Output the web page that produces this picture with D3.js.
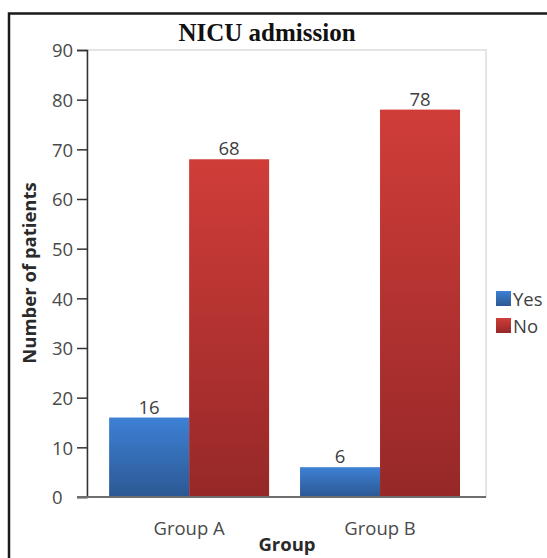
<!DOCTYPE html>
<html>
<head>
<meta charset="utf-8">
<script src="https://cdn.jsdelivr.net/npm/d3@7"></script>
<style>
  html, body { margin: 0; padding: 0; background: #fff; }
  svg { display: block; }
</style>
</head>
<body>
<svg id="chart" width="547" height="558"></svg>
<script>
// NICU admission counts by study group
const groups = ["Group A", "Group B"];
const seriesNames = ["Yes", "No"];
const yesValues = [16, 6];
const noValues = [68, 78];
const yTicks = [0, 10, 20, 30, 40, 50, 60, 70, 80, 90];

const svg = d3.select("#chart");
const W = 547, H = 558;
const plot = { left: 87, right: 486, top: 50, bottom: 497 };
const sansFont = "'Open Sans', 'Noto Sans', sans-serif";
const labelSize = 18.5;

// Outer frame (top and left edges visible)
svg.append("path")
  .attr("d", `M9,${H} L9,13.5 L${W},13.5`)
  .attr("fill", "none")
  .attr("stroke", "#1a1a1a")
  .attr("stroke-width", 2.5);

// Gradients for the bars
const defs = svg.append("defs");
const gradStops = {
  Yes: ["#3d80d4", "#2c5894"],
  No: ["#d03d39", "#962828"]
};
seriesNames.forEach(s => {
  const g = defs.append("linearGradient")
    .attr("id", "grad-" + s)
    .attr("x1", 0).attr("y1", 0).attr("x2", 0).attr("y2", 1);
  g.append("stop").attr("offset", "0%").attr("stop-color", gradStops[s][0]);
  g.append("stop").attr("offset", "100%").attr("stop-color", gradStops[s][1]);
});

// Scales
const x0 = d3.scaleBand()
  .domain(groups)
  .range([plot.left, plot.right])
  .paddingInner(0.162)
  .paddingOuter(0.126)
  .align(0.46);
const x1 = d3.scaleBand()
  .domain(seriesNames)
  .range([0, x0.bandwidth()])
  .padding(0);
const y = d3.scaleLinear()
  .domain([0, 90])
  .range([plot.bottom, plot.top]);

// Plot frame
svg.append("rect")
  .attr("x", plot.left).attr("y", plot.top)
  .attr("width", plot.right - plot.left)
  .attr("height", plot.bottom - plot.top)
  .attr("fill", "none")
  .attr("stroke", "#dcdcdc")
  .attr("stroke-width", 1.5);

// Bars
const rows = groups.map((g, i) => ({ group: g, values: [
  { key: "Yes", value: yesValues[i] },
  { key: "No", value: noValues[i] }
]}));

const gSel = svg.append("g").selectAll("g")
  .data(rows)
  .join("g")
  .attr("transform", d => `translate(${x0(d.group)},0)`);

gSel.selectAll("rect")
  .data(d => d.values)
  .join("rect")
  .attr("x", d => x1(d.key))
  .attr("y", d => y(d.value))
  .attr("width", x1.bandwidth())
  .attr("height", d => y(0) - y(d.value))
  .attr("fill", d => `url(#grad-${d.key})`);

gSel.selectAll("text")
  .data(d => d.values)
  .join("text")
  .attr("x", d => x1(d.key) + x1.bandwidth() / 2)
  .attr("y", d => y(d.value) - 4)
  .attr("text-anchor", "middle")
  .attr("font-family", sansFont)
  .attr("font-size", labelSize)
  .attr("fill", "#3f3f3f")
  .text(d => d.value);

// Y axis
const yAxis = svg.append("g")
  .attr("transform", `translate(${plot.left},0)`)
  .call(d3.axisLeft(y).tickValues(yTicks).tickSize(10).tickPadding(4));
yAxis.select(".domain").attr("stroke", "#333").attr("stroke-width", 1.5);
yAxis.selectAll(".tick line").attr("stroke", "#333").attr("stroke-width", 1.5);
yAxis.selectAll(".tick text")
  .attr("font-family", sansFont)
  .attr("font-size", labelSize)
  .attr("fill", "#4a4a4a")
  .attr("text-anchor", "start")
  .attr("x", 52 - plot.left)
  .attr("dy", "0.36em");

// X axis baseline and labels
const xAxis = svg.append("g")
  .attr("transform", `translate(0,${plot.bottom})`)
  .call(d3.axisBottom(x0).tickSize(0).tickPadding(25));
xAxis.select(".domain").remove();
xAxis.selectAll(".tick text")
  .attr("font-family", sansFont)
  .attr("font-size", labelSize)
  .attr("fill", "#4a4a4a");
svg.append("line")
  .attr("x1", plot.left - 10).attr("x2", plot.right)
  .attr("y1", plot.bottom).attr("y2", plot.bottom)
  .attr("stroke", "#6e6e6e")
  .attr("stroke-width", 2);

// Title
svg.append("text")
  .attr("x", 267).attr("y", 41)
  .attr("text-anchor", "middle")
  .attr("font-family", "'Liberation Serif', 'Times New Roman', serif")
  .attr("font-weight", "bold")
  .attr("font-size", 25)
  .attr("fill", "#111")
  .text("NICU admission");

// Axis titles
svg.append("text")
  .attr("x", 287).attr("y", 551)
  .attr("text-anchor", "middle")
  .attr("font-family", sansFont)
  .attr("font-weight", "bold")
  .attr("font-size", labelSize)
  .attr("fill", "#2a2a2a")
  .text("Group");

svg.append("text")
  .attr("transform", "translate(36,273) rotate(-90)")
  .attr("text-anchor", "middle")
  .attr("font-family", sansFont)
  .attr("font-weight", "bold")
  .attr("font-size", labelSize)
  .attr("fill", "#2a2a2a")
  .text("Number of patients");

// Legend
const legend = svg.append("g").attr("transform", "translate(496,291)");
const li = legend.selectAll("g")
  .data(seriesNames)
  .join("g")
  .attr("transform", (d, i) => `translate(0,${i * 27})`);
li.append("rect")
  .attr("width", 15).attr("height", 15)
  .attr("fill", d => `url(#grad-${d})`);
li.append("text")
  .attr("x", 17).attr("y", 14.5)
  .attr("font-family", sansFont)
  .attr("font-size", labelSize)
  .attr("fill", "#3f3f3f")
  .text(d => d);
</script>
</body>
</html>
